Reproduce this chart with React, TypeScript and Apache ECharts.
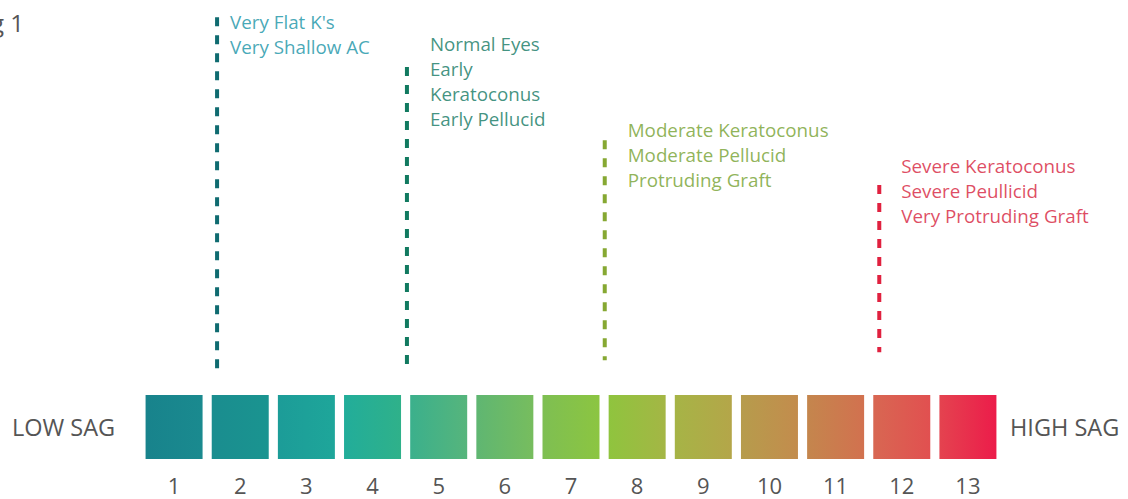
import React, { useEffect, useRef } from "react";
import * as echarts from "echarts";

const categories = ["1", "2", "3", "4", "5", "6", "7", "8", "9", "10", "11", "12", "13"];
const boxHeight = 14.25;
const boxColorsLeft = ["#18838c", "#1a8d8f", "#1c9c98", "#22ad9a", "#3bb08c", "#5fb672", "#7ebf52", "#8fc43e", "#a6b446", "#b69c4c", "#c4864d", "#d86752", "#e4434f"];
const boxColorsRight = ["#1a8a8f", "#1a9490", "#1ea69a", "#2fb18a", "#56b57c", "#77bd5e", "#8cc541", "#a4b645", "#b4a649", "#c38c4d", "#d2714f", "#e15050", "#ec1c4a"];

const markerX = [1.65, 4.52, 7.51, 11.66];
const markerBottom = [19.8, 20.7, 22.0, 23.8];
const markerTop = [98.4, 87.3, 71.0, 61.0];
const markerTexts = [
  ["Very Flat K's", "Very Shallow AC"],
  ["Normal Eyes", "Early", "Keratoconus", "Early Pellucid"],
  ["Moderate Keratoconus", "Moderate Pellucid", "Protruding Graft"],
  ["Severe Keratoconus", "Severe Peullicid", "Very Protruding Graft"],
];
const lineColors = ["#0f6b70", "#117a60", "#86a832", "#e0213f"];
const textColors = ["#1592a5", "#10775f", "#73a02e", "#d61c3b"];
const labelOffsets = [[13, -8], [23, -35], [23, -23], [22, -32]];

const FONT = "'Open Sans', 'Noto Sans', sans-serif";

export default function App() {
  const ref = useRef<HTMLDivElement>(null);
  useEffect(() => {
    if (!ref.current) return;
    const chart = echarts.init(ref.current, null, { renderer: "svg" });
    const barData = categories.map((c, i) => ({
      value: boxHeight,
      itemStyle: {
        color: new echarts.graphic.LinearGradient(0, 0, 1, 0, [
          { offset: 0, color: boxColorsLeft[i] },
          { offset: 1, color: boxColorsRight[i] },
        ]),
      },
    }));
    const lineSeries = markerX.map((x, i) => ({
      type: "line",
      xAxisIndex: 1,
      yAxisIndex: 0,
      symbol: "none",
      silent: true,
      lineStyle: { color: lineColors[i], width: 4, type: [9, 9] },
      data: [[x, markerTop[i]], [x, markerBottom[i]]],
    }));
    const labelSeries = markerX.map((x, i) => ({
      type: "scatter",
      xAxisIndex: 1,
      yAxisIndex: 0,
      symbolSize: 0.1,
      silent: true,
      itemStyle: { color: "rgba(0,0,0,0)" },
      label: {
        show: true,
        position: labelOffsets[i],
        align: "left",
        verticalAlign: "top",
        formatter: markerTexts[i].join("\n"),
        color: textColors[i],
        fontSize: 18.8,
        lineHeight: 25,
        fontFamily: FONT,
      },
      data: [[x, markerTop[i]]],
    }));
    chart.setOption({
      animation: false,
      grid: { left: 141, right: 127, top: 10, bottom: 40 },
      xAxis: [
        {
          type: "category",
          data: categories,
          axisLine: { show: false },
          axisTick: { show: false },
          axisLabel: { color: "#555", fontSize: 22, lineHeight: 20, fontFamily: FONT, margin: 16 },
        },
        { type: "value", min: 0.5, max: 13.5, show: false },
      ],
      yAxis: { type: "value", min: 0, max: 100, show: false },
      graphic: [
        { type: "text", x: 24, y: 10, style: { text: "Fig 1", textAlign: "right", fill: "#555", fontSize: 24, fontFamily: FONT } },
        { type: "text", x: 12, y: 427, style: { text: "LOW SAG", textVerticalAlign: "middle", fill: "#555", fontSize: 23.5, fontFamily: FONT } },
        { type: "text", x: 1010, y: 427, style: { text: "HIGH SAG", textVerticalAlign: "middle", fill: "#555", fontSize: 23.5, fontFamily: FONT } },
      ],
      series: [
        { type: "bar", xAxisIndex: 0, yAxisIndex: 0, barWidth: 57, silent: true, data: barData },
        ...lineSeries,
        ...labelSeries,
      ],
    });
    return () => chart.dispose();
  }, []);
  return <div ref={ref} style={{ position: "absolute", left: 0, top: 0, width: 1128, height: 499 }} />;
}
